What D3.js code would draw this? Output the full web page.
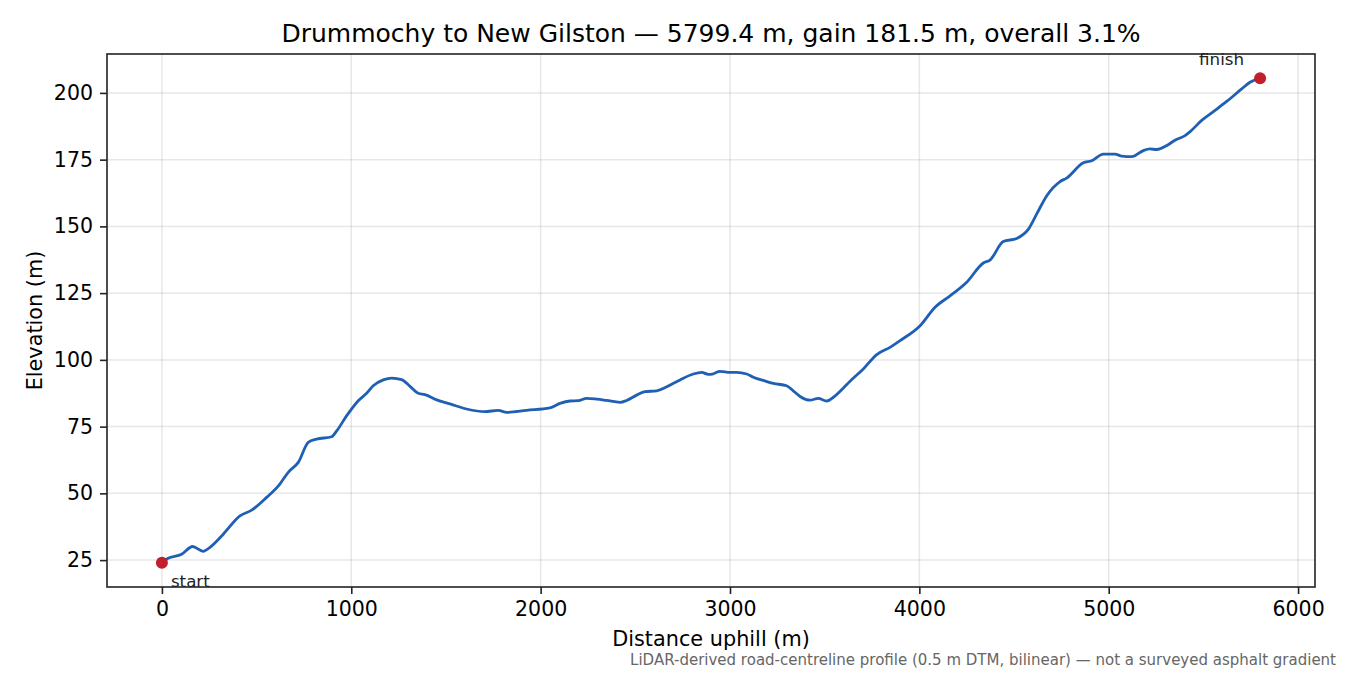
<!DOCTYPE html>
<html>
<head>
<meta charset="utf-8">
<script src="https://cdn.jsdelivr.net/npm/d3@7/dist/d3.min.js"></script>
<style>
  html, body { margin: 0; padding: 0; background: #fff; }
  svg { display: block; font-family: "DejaVu Sans", sans-serif; }
</style>
</head>
<body>
<svg id="chart" width="1350" height="675"></svg>
<script>
// ---- data ----
const distance = [0, 25, 104, 162, 218, 254, 324, 412, 474, 553, 623, 667, 720, 773, 817, 896, 923, 976,
  1037, 1081, 1116, 1169, 1213, 1266, 1310, 1354, 1389, 1451, 1521, 1609, 1706, 1776, 1821, 1926,
  2049, 2102, 2155, 2199, 2243, 2296, 2349, 2419, 2454, 2507, 2551, 2613, 2666, 2736, 2806, 2851, 2885,
  2912, 2947, 3000, 3035, 3088, 3123, 3176, 3229, 3299, 3334, 3370, 3423, 3466, 3511, 3546, 3598, 3634,
  3704, 3775, 3845, 3898, 4004, 4083, 4162, 4250, 4338, 4373, 4443, 4514, 4576, 4620, 4673, 4743, 4778,
  4866, 4910, 4972, 5033, 5069, 5122, 5183, 5218, 5254, 5307, 5350, 5403, 5430, 5491, 5553, 5623, 5702,
  5746, 5799.4];
const elevation = [24.0, 25.4, 27.2, 30.1, 28.3, 29.8, 34.7, 41.6, 43.7, 48.5, 53.5, 57.9, 61.6, 69.1, 70.3, 71.2, 73.4, 79.1,
  84.7, 87.5, 90.3, 92.5, 93.2, 92.6, 90.1, 87.5, 87.0, 85.0, 83.5, 81.6, 80.6, 81.1, 80.3, 81.1,
  82.0, 83.7, 84.6, 84.7, 85.6, 85.3, 84.8, 84.1, 84.8, 86.8, 88.1, 88.4, 89.9, 92.5, 94.7, 95.3, 94.6,
  94.8, 95.7, 95.3, 95.3, 94.7, 93.5, 92.3, 91.2, 90.3, 88.4, 86.3, 84.9, 85.6, 84.6, 86.0, 89.4, 92.0,
  96.6, 102.0, 104.7, 107.2, 112.8, 119.7, 124.0, 129.1, 136.3, 137.4, 144.3, 145.5, 149.0, 154.7, 161.5, 166.8, 168.1,
  173.8, 174.6, 177.1, 177.1, 176.3, 176.1, 178.4, 179.0, 178.8, 180.3, 182.3, 184.0, 185.5, 189.7, 193.0, 196.8, 201.5,
  204.0, 205.5];
const xTicks = [0, 1000, 2000, 3000, 4000, 5000, 6000];
const yTicks = [25, 50, 75, 100, 125, 150, 175, 200];
const endpointLabels = ["start", "finish"];
const titleText = "Drummochy to New Gilston \u2014 5799.4 m, gain 181.5 m, overall 3.1%";
const xLabelText = "Distance uphill (m)";
const yLabelText = "Elevation (m)";
const noteText = "LiDAR-derived road-centreline profile (0.5 m DTM, bilinear) \u2014 not a surveyed asphalt gradient";

// ---- layout ----
const W = 1350, H = 675;
const plot = { left: 107, right: 1315, top: 54, bottom: 587 };
const svg = d3.select("#chart");

const points = distance.map((d, i) => ({ d, e: elevation[i] }));
const xMin = d3.min(distance), xMax = d3.max(distance);
const yMin = d3.min(elevation), yMax = d3.max(elevation);
const xPad = (xMax - xMin) * 0.05, yPad = (yMax - yMin) * 0.05;

const x = d3.scaleLinear().domain([xMin - xPad, xMax + xPad]).range([plot.left, plot.right]);
const y = d3.scaleLinear().domain([yMin - yPad, yMax + yPad]).range([plot.bottom, plot.top]);

// grid
const grid = svg.append("g");
grid.selectAll("line.gx").data(xTicks).join("line")
  .attr("x1", d => x(d)).attr("x2", d => x(d))
  .attr("y1", plot.top).attr("y2", plot.bottom)
  .attr("stroke", "#b0b0b0").attr("stroke-opacity", 0.3).attr("stroke-width", 1.5);
grid.selectAll("line.gy").data(yTicks).join("line")
  .attr("y1", d => y(d)).attr("y2", d => y(d))
  .attr("x1", plot.left).attr("x2", plot.right)
  .attr("stroke", "#b0b0b0").attr("stroke-opacity", 0.3).attr("stroke-width", 1.5);

// line
const line = d3.line().x(p => x(p.d)).y(p => y(p.e)).curve(d3.curveMonotoneX);
svg.append("path").datum(points)
  .attr("d", line).attr("fill", "none")
  .attr("stroke", "#1f5fb4").attr("stroke-width", 2.8)
  .attr("stroke-linejoin", "round").attr("stroke-linecap", "round");

// endpoints
const ends = [points[0], points[points.length - 1]];
svg.selectAll("circle.end").data(ends).join("circle")
  .attr("cx", p => x(p.d)).attr("cy", p => y(p.e)).attr("r", 6)
  .attr("fill", "#c01f2b");

svg.append("text").text(endpointLabels[0])
  .attr("x", x(ends[0].d) + 9).attr("y", y(ends[0].e) + 24)
  .attr("font-size", 16.7).attr("fill", "#222");
svg.append("text").text(endpointLabels[1])
  .attr("x", x(ends[1].d) - 16).attr("y", y(ends[1].e) - 13)
  .attr("text-anchor", "end")
  .attr("font-size", 16.7).attr("fill", "#222");

// frame
svg.append("rect")
  .attr("x", plot.left).attr("y", plot.top)
  .attr("width", plot.right - plot.left).attr("height", plot.bottom - plot.top)
  .attr("fill", "none").attr("stroke", "#222").attr("stroke-width", 1.6);

// axes
const xAxis = d3.axisBottom(x).tickValues(xTicks).tickFormat(d3.format("d")).tickSize(7).tickPadding(7);
const yAxis = d3.axisLeft(y).tickValues(yTicks).tickFormat(d3.format("d")).tickSize(7).tickPadding(7);
const gx = svg.append("g").attr("transform", `translate(0,${plot.bottom})`).call(xAxis);
const gy = svg.append("g").attr("transform", `translate(${plot.left},0)`).call(yAxis);
[gx, gy].forEach(g => {
  g.select(".domain").remove();
  g.selectAll(".tick line").attr("stroke", "#222").attr("stroke-width", 1.6);
  g.selectAll(".tick text").attr("font-size", 20.5).attr("fill", "#000")
    .attr("font-family", "DejaVu Sans, sans-serif");
});

// labels
svg.append("text").text(titleText)
  .attr("x", (plot.left + plot.right) / 2).attr("y", 42)
  .attr("text-anchor", "middle").attr("font-size", 25).attr("fill", "#000");
svg.append("text").text(xLabelText)
  .attr("x", (plot.left + plot.right) / 2).attr("y", 646)
  .attr("text-anchor", "middle").attr("font-size", 20.8).attr("fill", "#000");
svg.append("text").text(yLabelText)
  .attr("transform", `translate(42,${(plot.top + plot.bottom) / 2}) rotate(-90)`)
  .attr("text-anchor", "middle").attr("font-size", 20.8).attr("fill", "#000");
svg.append("text").text(noteText)
  .attr("x", 1336).attr("y", 665)
  .attr("text-anchor", "end").attr("font-size", 15).attr("fill", "#666");
</script>
</body>
</html>
